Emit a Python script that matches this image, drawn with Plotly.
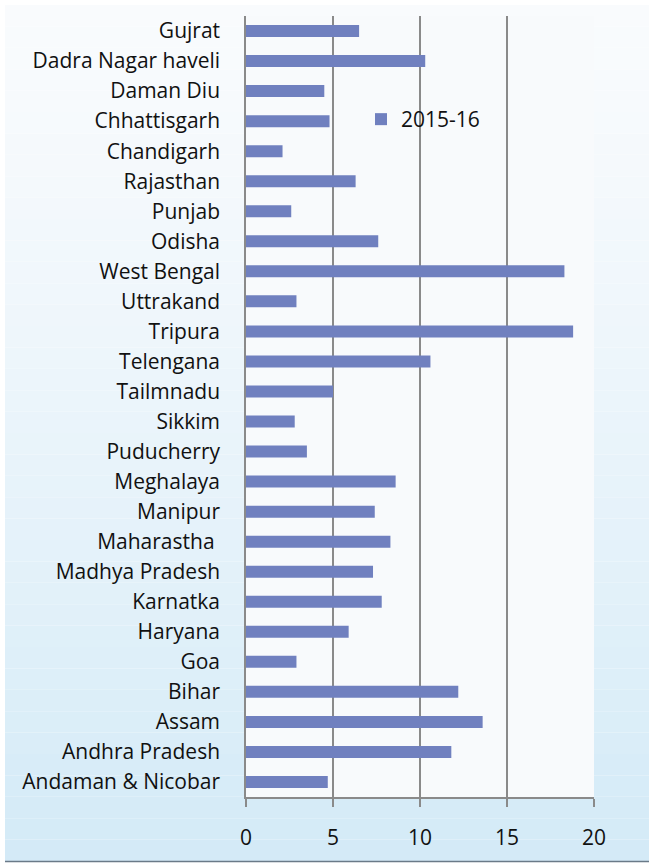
import plotly.graph_objects as go

categories = ["Andaman & Nicobar", "Andhra Pradesh", "Assam", "Bihar", "Goa", "Haryana",
              "Karnatka", "Madhya Pradesh", "Maharastha ", "Manipur", "Meghalaya", "Puducherry",
              "Sikkim", "Tailmnadu", "Telengana", "Tripura", "Uttrakand", "West Bengal",
              "Odisha", "Punjab", "Rajasthan", "Chandigarh", "Chhattisgarh", "Daman Diu",
              "Dadra Nagar haveli", "Gujrat"]
values_2015_16 = [4.7, 11.8, 13.6, 12.2, 2.9, 5.9,
                  7.8, 7.3, 8.3, 7.4, 8.6, 3.5,
                  2.8, 5.0, 10.6, 18.8, 2.9, 18.3,
                  7.6, 2.6, 6.3, 2.1, 4.8, 4.5,
                  10.3, 6.5]
series_name = "2015-16"
x_ticks = [0, 5, 10, 15, 20]

W, H = 649, 863
L, R, T, B = 246, 594, 16, 797  # plot area in px


def px_x(p):
    return (p - L) / (R - L)


def px_y(p):
    return (B - p) / (B - T)


fig = go.Figure()
fig.add_trace(go.Bar(
    y=categories, x=values_2015_16, orientation="h", name=series_name,
    marker=dict(color="#7080bf", line=dict(width=0)), width=0.4,
    showlegend=True,
))

# background gradient (paper)
shapes = []
n = 40
top_c = (249, 251, 253)
bot_c = (211, 234, 247)
y0px, y1px = 5, 861
for i in range(n):
    t0 = y0px + (y1px - y0px) * i / n
    t1 = y0px + (y1px - y0px) * (i + 1) / n
    f = (i + 0.5) / n
    f = f ** 1.3
    c = tuple(int(round(top_c[k] + (bot_c[k] - top_c[k]) * f)) for k in range(3))
    shapes.append(dict(type="rect", xref="paper", yref="paper",
                       x0=px_x(5), x1=px_x(660), y0=px_y(t1), y1=px_y(t0),
                       fillcolor="rgb(%d,%d,%d)" % c, line=dict(width=0), layer="below"))
# plot area fill
shapes.append(dict(type="rect", xref="paper", yref="paper", x0=0, x1=1, y0=0, y1=1,
                   fillcolor="#f8fafc", line=dict(width=0), layer="below"))
# bottom frame line
shapes.append(dict(type="line", xref="paper", yref="paper", x0=px_x(5), x1=px_x(660),
                   y0=px_y(861.5), y1=px_y(861.5), line=dict(color="#6a7a88", width=1.5)))

fig.update_layout(
    width=W, height=H,
    margin=dict(l=L, r=W - R, t=T, b=H - B, pad=0),
    paper_bgcolor="white", plot_bgcolor="rgba(0,0,0,0)",
    font=dict(family="Open Sans", color="#111111"),
    shapes=shapes,
    legend=dict(x=px_x(361), y=px_y(99), xanchor="left", yanchor="top",
                bgcolor="rgba(0,0,0,0)", font=dict(size=21, color="#111111"),
                itemwidth=30),
    xaxis=dict(range=[0, 20], tickvals=x_ticks, showgrid=True, gridcolor="#8a8a8a",
               gridwidth=1.5, zeroline=False, showline=True, linecolor="#8a8a8a",
               linewidth=1.5, ticks="outside", ticklen=8, tickcolor="#8a8a8a",
               tickwidth=1.5, tickfont=dict(size=21, color="#111111"), ticklabelstandoff=13),
    yaxis=dict(type="category", categoryorder="array", categoryarray=categories,
               range=[-0.5, len(categories) - 0.5], showgrid=False, zeroline=False,
               showline=True, linecolor="#8a8a8a", linewidth=1.5, ticks="",
               tickfont=dict(size=21, color="#111111"), ticklabelstandoff=20),
)

fig.write_html("out.html",
               config={"displayModeBar": False},
               post_script="document.body.style.margin='0';"
                           "document.documentElement.style.overflow='hidden';")
